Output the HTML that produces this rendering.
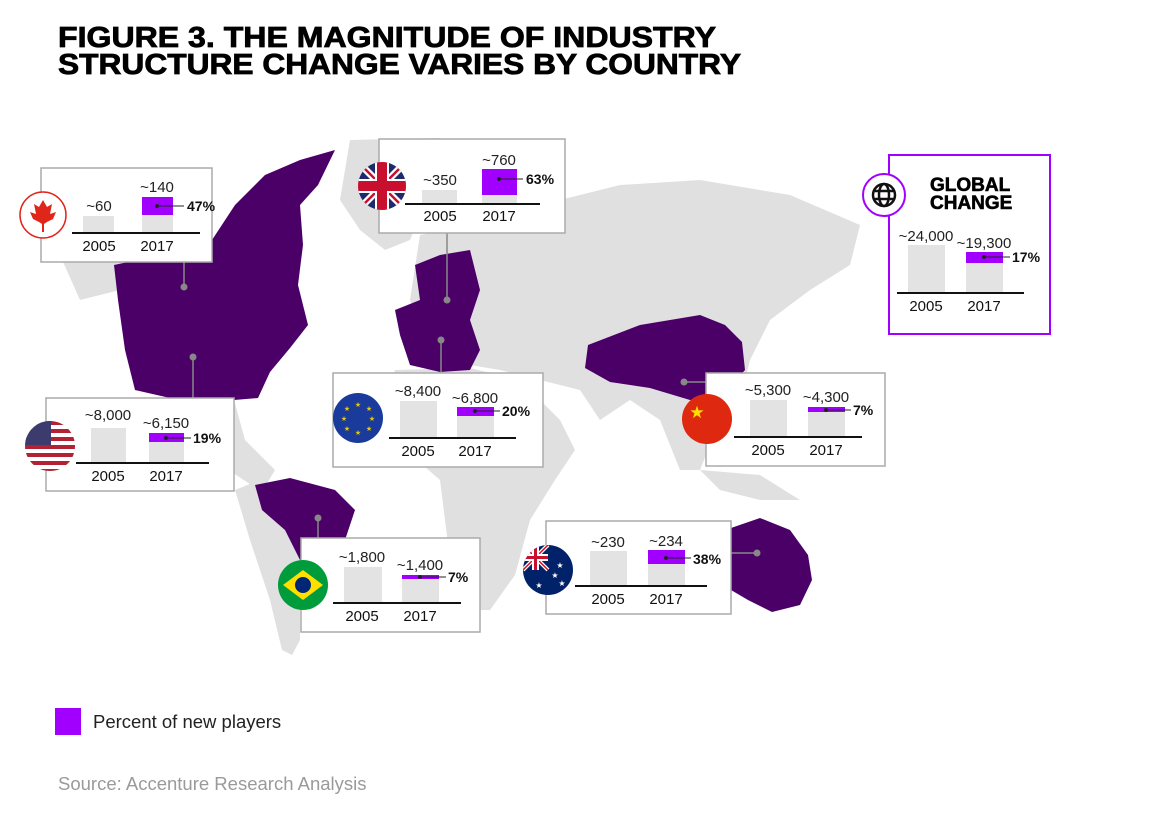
<!DOCTYPE html>
<html><head><meta charset="utf-8"><style>
html,body{margin:0;padding:0;background:#fff;}
svg{display:block;font-family:"Liberation Sans",sans-serif;}
.v{font-size:15px;fill:#222;text-anchor:middle}
.y{font-size:15px;fill:#111;text-anchor:middle}
.p{font-size:14px;font-weight:bold;fill:#111}
.bx{fill:#fff;stroke:#aaa;stroke-width:1.5}
.g{fill:#e3e3e3}
.pu{fill:#a100ff}
.ax{stroke:#111;stroke-width:2}
.ld{stroke:#888;stroke-width:1.5}
.dot{fill:#888}
.land{fill:#e0e0e0}
.dp{fill:#4b0068}
</style></head><body>
<svg width="1153" height="817" viewBox="0 0 1153 817">
<text x="58" y="47" font-size="29" font-weight="bold" fill="#000" stroke="#000" stroke-width="0.8" textLength="658" lengthAdjust="spacingAndGlyphs">FIGURE 3. THE MAGNITUDE OF INDUSTRY</text>
<text x="58" y="74" font-size="29" font-weight="bold" fill="#000" stroke="#000" stroke-width="0.8" textLength="683" lengthAdjust="spacingAndGlyphs">STRUCTURE CHANGE VARIES BY COUNTRY</text>

<!-- map grey -->
<polygon class="land" points="350,140 440,138 425,200 410,240 385,250 360,230 340,200"/>
<polygon class="land" points="420,235 470,225 540,205 620,185 700,180 790,195 860,225 850,265 810,290 770,320 750,360 740,400 720,420 700,470 680,470 660,420 630,400 600,420 580,390 540,380 500,370 470,365 430,345 410,300"/>
<polygon class="land" points="395,370 470,368 520,380 560,420 575,450 555,480 530,520 515,575 490,610 470,610 450,560 440,480 400,445 385,405"/>
<polygon class="land" points="165,395 234,400 245,440 275,470 262,492 236,475 205,445"/>
<polygon class="land" points="235,490 260,480 300,500 305,540 300,600 300,640 292,655 282,650 270,600 250,540"/>
<polygon class="land" points="700,470 760,475 800,500 760,500 720,490"/>
<polygon class="land" points="60,255 130,262 120,290 80,300"/>
<!-- purple countries -->
<polygon class="dp" points="128,262 212,262 212,240 235,205 265,175 300,160 335,150 318,185 300,205 303,245 298,285 308,325 290,348 270,372 258,398 234,400 170,398 135,390 125,350 118,300 114,265"/>
<polygon class="dp" points="415,265 440,255 470,250 480,290 470,320 480,350 470,370 440,372 410,365 400,335 395,310 420,300"/>
<polygon class="dp" points="588,345 640,325 700,315 725,325 742,342 745,370 720,398 690,400 650,388 610,382 585,368"/>
<polygon class="dp" points="255,485 290,478 335,490 355,510 345,540 315,560 300,560 285,530 262,510"/>
<polygon class="dp" points="731,528 760,518 790,530 808,555 812,580 800,605 772,612 748,600 731,590"/>

<!-- leader lines -->
<line class="ld" x1="184" y1="262" x2="184" y2="287"/><circle class="dot" cx="184" cy="287" r="3.5"/>
<line class="ld" x1="193" y1="357" x2="193" y2="398"/><circle class="dot" cx="193" cy="357" r="3.5"/>
<line class="ld" x1="447" y1="233" x2="447" y2="300"/><circle class="dot" cx="447" cy="300" r="3.5"/>
<line class="ld" x1="441" y1="340" x2="441" y2="373"/><circle class="dot" cx="441" cy="340" r="3.5"/>
<line class="ld" x1="684" y1="382" x2="706" y2="382"/><circle class="dot" cx="684" cy="382" r="3.5"/>
<line class="ld" x1="318" y1="518" x2="318" y2="538"/><circle class="dot" cx="318" cy="518" r="3.5"/>
<line class="ld" x1="731" y1="553" x2="757" y2="553"/><circle class="dot" cx="757" cy="553" r="3.5"/>

<!-- Canada -->
<rect class="bx" x="41" y="168" width="171" height="94"/>
<circle cx="43" cy="215" r="23" fill="#fff" stroke="#e0251b" stroke-width="1.5"/>
<polygon fill="#e0251b" points="43,200 47,207 52,204 50,214 56,212 53,219 47,222 44,224 44,232 42,232 42,224 39,222 33,219 30,212 36,214 34,204 39,207"/>
<rect class="g" x="83" y="216" width="31" height="17"/>
<rect class="g" x="142" y="197" width="31" height="36"/><rect class="pu" x="142" y="197" width="31" height="18"/>
<line class="ax" x1="72" y1="233" x2="200" y2="233"/>
<text class="v" x="99" y="211">~60</text><text class="v" x="157" y="192">~140</text>
<line x1="157" y1="206" x2="184" y2="206" stroke="#222"/><circle cx="157" cy="206" r="2" fill="#222"/>
<text class="p" x="187" y="211">47%</text>
<text class="y" x="99" y="251">2005</text><text class="y" x="157" y="251">2017</text>

<!-- UK -->
<rect class="bx" x="379" y="139" width="186" height="94"/>
<circle cx="382" cy="186" r="24" fill="#1d2a6b"/>
<clipPath id="ck"><circle cx="382" cy="186" r="24"/></clipPath>
<g clip-path="url(#ck)">
<path d="M358,162 L406,210 M406,162 L358,210" stroke="#fff" stroke-width="7"/>
<path d="M358,162 L406,210 M406,162 L358,210" stroke="#c8102e" stroke-width="2.5"/>
<rect x="375" y="162" width="14" height="48" fill="#fff"/><rect x="358" y="179" width="48" height="14" fill="#fff"/>
<rect x="377" y="162" width="10" height="48" fill="#c8102e"/><rect x="358" y="181" width="48" height="10" fill="#c8102e"/></g>
<rect class="g" x="422" y="190" width="35" height="14"/>
<rect class="g" x="482" y="169" width="35" height="35"/><rect class="pu" x="482" y="169" width="35" height="26"/>
<line class="ax" x1="405" y1="204" x2="540" y2="204"/>
<text class="v" x="440" y="185">~350</text><text class="v" x="499" y="165">~760</text>
<line x1="499" y1="179" x2="523" y2="179" stroke="#222"/><circle cx="499" cy="179" r="2" fill="#222"/>
<text class="p" x="526" y="184">63%</text>
<text class="y" x="440" y="221">2005</text><text class="y" x="499" y="221">2017</text>

<!-- US -->
<rect class="bx" x="46" y="398" width="188" height="93"/>
<clipPath id="cu"><circle cx="50" cy="446" r="25"/></clipPath>
<g clip-path="url(#cu)">
<rect x="25" y="421" width="50" height="50" fill="#fff"/>
<g fill="#b22234"><rect x="25" y="421" width="50" height="4"/><rect x="25" y="429" width="50" height="4"/><rect x="25" y="437" width="50" height="4"/><rect x="25" y="445" width="50" height="4"/><rect x="25" y="453" width="50" height="4"/><rect x="25" y="461" width="50" height="4"/><rect x="25" y="469" width="50" height="4"/></g>
<rect x="25" y="421" width="26" height="24" fill="#3c3b6e"/></g>
<rect class="g" x="91" y="428" width="35" height="35"/>
<rect class="g" x="149" y="433" width="35" height="30"/><rect class="pu" x="149" y="433" width="35" height="9"/>
<line class="ax" x1="76" y1="463" x2="209" y2="463"/>
<text class="v" x="108" y="420">~8,000</text><text class="v" x="166" y="428">~6,150</text>
<line x1="166" y1="438" x2="191" y2="438" stroke="#222"/><circle cx="166" cy="438" r="2" fill="#222"/>
<text class="p" x="193" y="443">19%</text>
<text class="y" x="108" y="481">2005</text><text class="y" x="166" y="481">2017</text>

<!-- EU -->
<rect class="bx" x="333" y="373" width="210" height="94"/>
<circle cx="358" cy="418" r="25" fill="#1a3a9c"/>
<g fill="#e8c800" font-size="7" text-anchor="middle"><text x="358" y="407">★</text><text x="358" y="435">★</text><text x="344" y="421">★</text><text x="372" y="421">★</text><text x="347" y="411">★</text><text x="369" y="411">★</text><text x="347" y="431">★</text><text x="369" y="431">★</text></g>
<rect class="g" x="400" y="401" width="37" height="37"/>
<rect class="g" x="457" y="407" width="37" height="31"/><rect class="pu" x="457" y="407" width="37" height="9"/>
<line class="ax" x1="389" y1="438" x2="516" y2="438"/>
<text class="v" x="418" y="396">~8,400</text><text class="v" x="475" y="403">~6,800</text>
<line x1="475" y1="411" x2="500" y2="411" stroke="#222"/><circle cx="475" cy="411" r="2" fill="#222"/>
<text class="p" x="502" y="416">20%</text>
<text class="y" x="418" y="456">2005</text><text class="y" x="475" y="456">2017</text>

<!-- China -->
<rect class="bx" x="706" y="373" width="179" height="93"/>
<circle cx="707" cy="419" r="25" fill="#de2910"/>
<text x="697" y="418" font-size="17" fill="#ffde00" text-anchor="middle">★</text>
<rect class="g" x="750" y="400" width="37" height="37"/>
<rect class="g" x="808" y="407" width="37" height="30"/><rect class="pu" x="808" y="407" width="37" height="5"/>
<line class="ax" x1="734" y1="437" x2="862" y2="437"/>
<text class="v" x="768" y="395">~5,300</text><text class="v" x="826" y="402">~4,300</text>
<line x1="826" y1="410" x2="851" y2="410" stroke="#222"/><circle cx="826" cy="410" r="2" fill="#222"/>
<text class="p" x="853" y="415">7%</text>
<text class="y" x="768" y="455">2005</text><text class="y" x="826" y="455">2017</text>

<!-- Brazil -->
<rect class="bx" x="301" y="538" width="179" height="94"/>
<circle cx="303" cy="585" r="25" fill="#009c3b"/>
<polygon points="283,585 303,570 323,585 303,600" fill="#ffdf00"/>
<circle cx="303" cy="585" r="8" fill="#002776"/>
<rect class="g" x="344" y="567" width="38" height="36"/>
<rect class="g" x="402" y="575" width="37" height="28"/><rect class="pu" x="402" y="575" width="37" height="4"/>
<line class="ax" x1="333" y1="603" x2="461" y2="603"/>
<text class="v" x="362" y="562">~1,800</text><text class="v" x="420" y="570">~1,400</text>
<line x1="420" y1="577" x2="446" y2="577" stroke="#222"/><circle cx="420" cy="577" r="2" fill="#222"/>
<text class="p" x="448" y="582">7%</text>
<text class="y" x="362" y="621">2005</text><text class="y" x="420" y="621">2017</text>

<!-- Australia -->
<rect class="bx" x="546" y="521" width="185" height="93"/>
<clipPath id="ca"><circle cx="548" cy="570" r="25"/></clipPath>
<circle cx="548" cy="570" r="25" fill="#012169"/>
<g clip-path="url(#ca)">
<path d="M523,545 L548,570 M548,545 L523,570" stroke="#fff" stroke-width="4"/>
<path d="M523,545 L548,570 M548,545 L523,570" stroke="#c8102e" stroke-width="1.5"/>
<rect x="532" y="545" width="7" height="25" fill="#fff"/><rect x="523" y="554" width="25" height="7" fill="#fff"/>
<rect x="534" y="545" width="3" height="25" fill="#c8102e"/><rect x="523" y="556" width="25" height="3" fill="#c8102e"/></g>
<g fill="#fff" font-size="8" text-anchor="middle"><text x="539" y="588">★</text><text x="560" y="568">★</text><text x="562" y="586">★</text><text x="555" y="578">★</text></g>
<rect class="g" x="590" y="551" width="37" height="35"/>
<rect class="g" x="648" y="550" width="37" height="36"/><rect class="pu" x="648" y="550" width="37" height="14"/>
<line class="ax" x1="575" y1="586" x2="707" y2="586"/>
<text class="v" x="608" y="547">~230</text><text class="v" x="666" y="546">~234</text>
<line x1="666" y1="558" x2="691" y2="558" stroke="#222"/><circle cx="666" cy="558" r="2" fill="#222"/>
<text class="p" x="693" y="564">38%</text>
<text class="y" x="608" y="604">2005</text><text class="y" x="666" y="604">2017</text>

<!-- Global -->
<rect x="889" y="155" width="161" height="179" fill="#fff" stroke="#a100ff" stroke-width="2"/>
<circle cx="884" cy="195" r="21" fill="#fff" stroke="#a100ff" stroke-width="2"/>
<g fill="none" stroke="#111" stroke-width="2.5"><circle cx="884" cy="195" r="11"/><ellipse cx="884" cy="195" rx="5" ry="11"/><line x1="873" y1="191" x2="895" y2="191"/><line x1="873" y1="199" x2="895" y2="199"/></g>
<text x="930" y="191" font-size="19" font-weight="bold" fill="#000" stroke="#000" stroke-width="0.6">GLOBAL</text>
<text x="930" y="209" font-size="19" font-weight="bold" fill="#000" stroke="#000" stroke-width="0.6">CHANGE</text>
<rect class="g" x="908" y="245" width="37" height="48"/>
<rect class="g" x="966" y="252" width="37" height="41"/><rect class="pu" x="966" y="252" width="37" height="11"/>
<line class="ax" x1="897" y1="293" x2="1024" y2="293"/>
<text class="v" x="926" y="241">~24,000</text><text class="v" x="984" y="248">~19,300</text>
<line x1="984" y1="257" x2="1010" y2="257" stroke="#222"/><circle cx="984" cy="257" r="2" fill="#222"/>
<text class="p" x="1012" y="262">17%</text>
<text class="y" x="926" y="311">2005</text><text class="y" x="984" y="311">2017</text>

<!-- legend -->
<rect x="55" y="708" width="26" height="27" fill="#a100ff"/>
<text x="93" y="728" font-size="18.5" fill="#222">Percent of new players</text>
<text x="58" y="790" font-size="18.5" fill="#9a9a9a">Source: Accenture Research Analysis</text>
</svg>
</body></html>
